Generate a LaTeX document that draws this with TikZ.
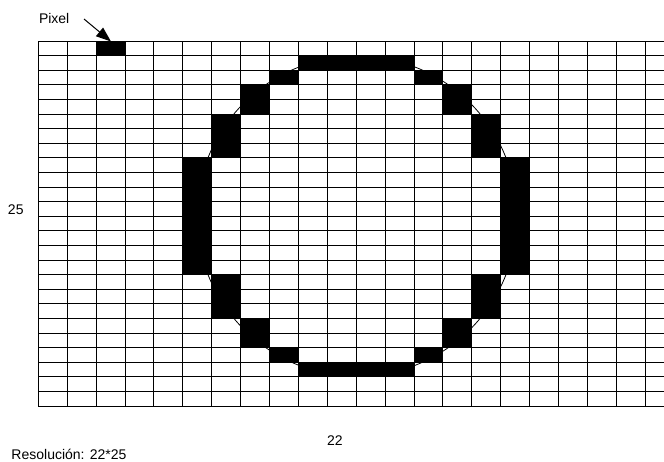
\documentclass[tikz,border=0pt]{standalone}
\usepackage{fontspec}
\setmainfont{Liberation Sans}
\usetikzlibrary{arrows.meta}
\begin{document}
\begin{tikzpicture}[x=1pt,y=-1pt,
  gridline/.style={line width=0.9pt, black},
  pixfill/.style={fill=black},
  lbl/.style={font=\fontsize{14}{16}\selectfont, inner sep=0pt, outer sep=0pt, anchor=base west},
  pointer/.style={line width=1pt, -{Triangle[length=15pt,width=11pt]}}]
\useasboundingbox (0,0) rectangle (664,461);
\def\gx{38.3}\def\gw{28.9}\def\gy{41}\def\gh{14.6}
% ideal circle
\draw[line width=0.8pt] (357,216.2) circle[radius=160];
% pixels
\foreach \c/\r/\n/\m in {2/0/1/1, 9/1/4/1, 8/2/1/1, 13/2/1/1, 7/3/1/2, 14/3/1/2,
   6/5/1/3, 15/5/1/3, 5/8/1/8, 16/8/1/8, 6/16/1/3, 15/16/1/3, 7/19/1/2, 14/19/1/2,
   8/21/1/1, 13/21/1/1, 9/22/4/1}
  \fill[pixfill] (\gx+\c*\gw, \gy+\r*\gh) rectangle ++(\n*\gw, \m*\gh);
% grid
\begin{scope}
\clip (0,0) rectangle (664,461);
\foreach \i in {0,...,22}
  \draw[gridline] (\gx+\i*\gw, \gy) -- (\gx+\i*\gw, \gy+25*\gh);
\foreach \j in {0,...,25}
  \draw[gridline] (\gx, \gy+\j*\gh) -- (\gx+22*\gw, \gy+\j*\gh);
\end{scope}
% labels
\node[lbl] (pixlbl) at (39,23) {Pixel};
\node[lbl] (rows) at (8,214) {25};
\node[lbl] (cols) at (327,445) {22};
\node[lbl] (res) at (11.5,459.5) {Resolución: 22*25};
% arrow
\coordinate (arrowstart) at (84,19);
\coordinate (pixtop) at (111,41.5);
\draw[pointer] (arrowstart) -- (pixtop);
\end{tikzpicture}
\end{document}
